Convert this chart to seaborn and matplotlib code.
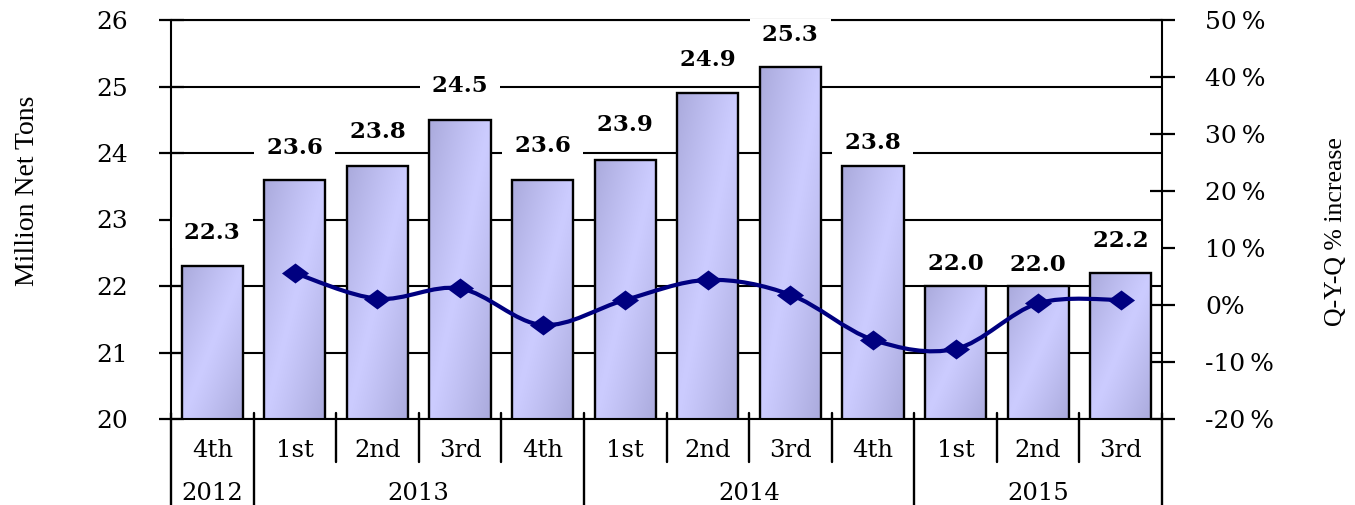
import numpy as np
import pandas as pd
import matplotlib
matplotlib.use("Agg")
import matplotlib.pyplot as plt
import matplotlib.transforms as mtransforms
from matplotlib.path import Path
from matplotlib.patches import PathPatch
import seaborn as sns

# ---- data -------------------------------------------------------------
quarters = ["4th", "1st", "2nd", "3rd", "4th", "1st", "2nd", "3rd", "4th", "1st", "2nd", "3rd"]
years = ["2012", "2013", "2013", "2013", "2013", "2014", "2014", "2014", "2014", "2015", "2015", "2015"]
tons = [22.3, 23.6, 23.8, 24.5, 23.6, 23.9, 24.9, 25.3, 23.8, 22.0, 22.0, 22.2]
qyq_pct = [np.nan, 5.6, 1.1, 2.9, -3.5, 0.9, 4.4, 1.8, -6.1, -7.7, 0.3, 0.9]

left_ticks = [20, 21, 22, 23, 24, 25, 26]
right_ticks = [-20, -10, 0, 10, 20, 30, 40, 50]
right_tick_labels = ["-20\u2009%", "-10\u2009%", "0%", "10\u2009%", "20\u2009%",
                     "30\u2009%", "40\u2009%", "50\u2009%"]

# vertical lift of each value label above its bar (points)
label_lift = [24, 23, 25, 24, 24, 25, 24, 23, 17, 16, 15, 23]

df = pd.DataFrame({
    "period": [f"{q} {y}" for q, y in zip(quarters, years)],
    "tons": tons,
})

# ---- style ------------------------------------------------------------
sns.set_style("white")
plt.rcParams["font.family"] = ["DejaVu Serif"]
plt.rcParams["axes.linewidth"] = 1.5
plt.rcParams["text.color"] = "black"
plt.rcParams["axes.labelcolor"] = "black"

navy = "#000080"
light = np.array([204, 204, 255]) / 255
dark = np.array([170, 170, 220]) / 255

fig = plt.figure(figsize=(13.55, 5.05), dpi=100)
ax = fig.add_axes([171 / 1355, 86 / 505, 991 / 1355, 399 / 505])

# ---- bars -------------------------------------------------------------
sns.barplot(data=df, x="period", y="tons", ax=ax, width=0.74, color="#ccccff",
            edgecolor="black", linewidth=1.7, zorder=2)

# diagonal shading inside every bar
ny, nx = 120, 60
u = np.linspace(0, 1, nx)[None, :]
v = np.linspace(1, 0, ny)[:, None]
t = np.clip(np.abs(u - v), 0, 1) ** 1.1
shade = light + (dark - light) * t[..., None]
for p in ax.patches:
    x0, w, h = p.get_x(), p.get_width(), p.get_height()
    im = ax.imshow(shade, extent=(x0, x0 + w, 20, h), aspect="auto",
                   origin="upper", interpolation="bilinear", zorder=2)
    im.set_clip_path(p)
    p.set_facecolor("none")
    p.set_zorder(2.5)

ax.set_xlim(-0.5, len(tons) - 0.5)
ax.set_ylim(20, 26)
ax.set_yticks(left_ticks)
ax.yaxis.grid(True, color="black", linewidth=1.5)
ax.set_axisbelow(True)
# top gridline sits on the axes edge; draw it unclipped
ax.axhline(left_ticks[-1], color="black", lw=1.5, clip_on=False, zorder=0.6)
ax.set_xlabel("")
ax.set_ylabel("")
ax.set_xticks([])
ax.tick_params(axis="y", direction="inout", length=18, width=1.6,
               labelsize=18, pad=22, colors="black")
for s in ["top", "right"]:
    ax.spines[s].set_visible(False)
for s in ["left", "bottom"]:
    ax.spines[s].set_color("black")

# ---- two-level category axis -----------------------------------------
blend = mtransforms.blended_transform_factory(ax.transData, ax.transAxes)
for k in range(len(tons) + 1):
    xb = k - 0.5
    year_edge = k in (0, len(tons)) or years[k] != years[k - 1]
    y_end = -0.216 if year_edge else -0.108
    ax.plot([xb, xb], [0.015, y_end], transform=blend, color="black",
            lw=1.7, clip_on=False, zorder=5)

for i, q in enumerate(quarters):
    ax.text(i, -0.080, q, transform=blend, ha="center", va="center",
            fontsize=17.5, clip_on=False)

for yr in dict.fromkeys(years):
    idx = [i for i, y in enumerate(years) if y == yr]
    ax.text((idx[0] + idx[-1]) / 2, -0.186, yr, transform=blend, ha="center",
            va="center", fontsize=17.5, clip_on=False)

# ---- percentage change line on the right axis -------------------------
ax2 = ax.twinx()
ax2.set_ylim(-20, 50)
ax2.set_yticks(right_ticks)
ax2.set_yticklabels(right_tick_labels)
ax2.tick_params(axis="y", direction="inout", length=18, width=1.6,
                labelsize=18, pad=22, colors="black")
for s in ["left", "top", "bottom"]:
    ax2.spines[s].set_visible(False)
ax2.spines["right"].set_color("black")
ax2.spines["right"].set_linewidth(1.5)
ax2.grid(False)

xs = np.array([i for i, val in enumerate(qyq_pct) if not np.isnan(val)], dtype=float)
ys = np.array([val for val in qyq_pct if not np.isnan(val)])


def smooth_path(px, py):
    pts = np.column_stack([px, py])
    n = len(pts)
    verts, codes = [pts[0]], [Path.MOVETO]
    for i in range(n - 1):
        p0 = pts[i - 1] if i > 0 else pts[i]
        p1, p2 = pts[i], pts[i + 1]
        p3 = pts[i + 2] if i + 2 < n else pts[i + 1]
        verts += [p1 + (p2 - p0) / 6, p2 - (p3 - p1) / 6, p2]
        codes += [Path.CURVE4] * 3
    return Path(verts, codes)


ax2.add_patch(PathPatch(smooth_path(xs, ys), fill=False, edgecolor=navy,
                        lw=3.0, zorder=3, capstyle="round", joinstyle="round"))
diamond = [(-1.35, 0), (0, 1), (1.35, 0), (0, -1), (-1.35, 0)]
sns.scatterplot(x=xs, y=ys, ax=ax2, marker=diamond, s=380, color=navy,
                edgecolor=navy, linewidth=0, zorder=4, legend=False)
ax2.set_ylim(-20, 50)
ax2.set_ylabel("")

# ---- value labels -----------------------------------------------------
for i, (val, lift) in enumerate(zip(tons, label_lift)):
    ax2.annotate(f" {val:.1f} ", xy=(i, val), xycoords=ax.transData,
                 xytext=(0, lift), textcoords="offset points",
                 ha="center", va="center", fontsize=16.5, fontweight="bold",
                 color="black",
                 bbox=dict(boxstyle="square,pad=0.2", fc="white", ec="none"),
                 zorder=6, annotation_clip=False)

# ---- axis titles ------------------------------------------------------
fig.text(28 / 1355, 1 - 191 / 505, "Million Net Tons", rotation=90,
         ha="center", va="center", fontsize=20, family="Liberation Serif")
fig.text(1336 / 1355, 1 - 232 / 505, "Q-Y-Q % increase", rotation=90,
         ha="center", va="center", fontsize=18.5, family="Liberation Serif")

fig.savefig("out.png", dpi=100)
